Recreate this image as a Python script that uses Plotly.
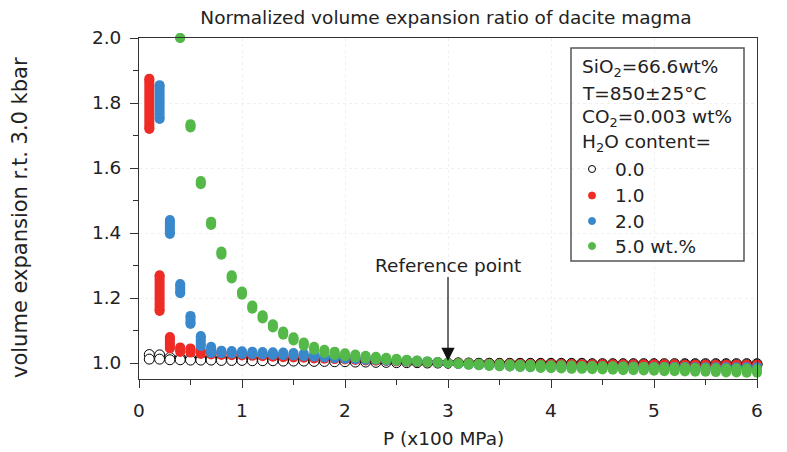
import plotly.graph_objects as go

# ---------------- data ----------------
P = [0.1, 0.2, 0.3, 0.4, 0.5, 0.6, 0.7, 0.8, 0.9, 1.0,
     1.1, 1.2, 1.3, 1.4, 1.5, 1.6, 1.7, 1.8, 1.9, 2.0,
     2.1, 2.2, 2.3, 2.4, 2.5, 2.6, 2.7, 2.8, 2.9, 3.0,
     3.1, 3.2, 3.3, 3.4, 3.5, 3.6, 3.7, 3.8, 3.9, 4.0,
     4.1, 4.2, 4.3, 4.4, 4.5, 4.6, 4.7, 4.8, 4.9, 5.0,
     5.1, 5.2, 5.3, 5.4, 5.5, 5.6, 5.7, 5.8, 5.9, 6.0]

# H2O = 0.0 wt% (upper / lower end of the temperature range)
h2o_0_hi = [1.026, 1.025, 1.017, 1.016, 1.016, 1.015, 1.015, 1.014, 1.014, 1.013,
            1.013, 1.012, 1.012, 1.011, 1.011, 1.010, 1.010, 1.009, 1.009, 1.008,
            1.007, 1.007, 1.006, 1.005, 1.005, 1.004, 1.003, 1.002, 1.001, 1.000,
            1.000, 1.000, 0.999, 0.999, 0.999, 0.999, 0.999, 0.999, 0.999, 0.999,
            0.999, 0.999, 0.999, 0.998, 0.998, 0.998, 0.998, 0.998, 0.998, 0.998,
            0.998, 0.998, 0.998, 0.998, 0.998, 0.998, 0.998, 0.998, 0.998, 0.998]
h2o_0_lo = [1.012, 1.012, 1.010, 1.010, 1.009, 1.009, 1.009, 1.008, 1.008, 1.008,
            1.007, 1.007, 1.007, 1.006, 1.006, 1.006, 1.005, 1.005, 1.004, 1.004,
            1.003, 1.003, 1.002, 1.002, 1.001, 1.001, 1.001, 1.000, 1.000, 1.000,
            1.000, 0.999, 0.999, 0.999, 0.998, 0.998, 0.998, 0.998, 0.997, 0.997,
            0.997, 0.997, 0.997, 0.996, 0.996, 0.996, 0.996, 0.996, 0.996, 0.996,
            0.995, 0.995, 0.995, 0.995, 0.995, 0.995, 0.995, 0.995, 0.995, 0.995]

# H2O = 1.0 wt%
h2o_1_hi = [1.875, 1.270, 1.080, 1.048, 1.045, 1.040, 1.036, 1.033, 1.031, 1.030,
            1.028, 1.027, 1.025, 1.024, 1.022, 1.021, 1.019, 1.018, 1.016, 1.015,
            1.013, 1.012, 1.010, 1.009, 1.007, 1.006, 1.004, 1.003, 1.001, 1.000,
            0.999, 0.999, 0.998, 0.998, 0.998, 0.998, 0.997, 0.997, 0.997, 0.997,
            0.997, 0.997, 0.996, 0.996, 0.996, 0.996, 0.996, 0.996, 0.996, 0.996,
            0.996, 0.996, 0.995, 0.995, 0.995, 0.995, 0.995, 0.995, 0.995, 0.995]
h2o_1_lo = [1.720, 1.160, 1.045, 1.034, 1.032, 1.028, 1.026, 1.025, 1.024, 1.023,
            1.022, 1.021, 1.019, 1.018, 1.017, 1.016, 1.014, 1.013, 1.012, 1.011,
            1.009, 1.008, 1.007, 1.006, 1.005, 1.004, 1.003, 1.002, 1.001, 1.000,
            0.999, 0.998, 0.997, 0.996, 0.996, 0.995, 0.995, 0.994, 0.994, 0.993,
            0.993, 0.993, 0.992, 0.992, 0.992, 0.991, 0.991, 0.991, 0.991, 0.990,
            0.990, 0.990, 0.990, 0.990, 0.989, 0.989, 0.989, 0.989, 0.989, 0.989]

# H2O = 2.0 wt%
h2o_2_hi = [None, 1.855, 1.440, 1.243, 1.145, 1.083, 1.050, 1.038, 1.037, 1.036,
            1.035, 1.034, 1.033, 1.032, 1.031, 1.029, 1.027, 1.025, 1.023, 1.021,
            1.019, 1.017, 1.015, 1.013, 1.011, 1.009, 1.007, 1.005, 1.003, 1.000,
            0.998, 0.997, 0.996, 0.995, 0.994, 0.993, 0.993, 0.992, 0.992, 0.991,
            0.991, 0.990, 0.990, 0.990, 0.989, 0.989, 0.989, 0.989, 0.988, 0.988,
            0.988, 0.988, 0.988, 0.987, 0.987, 0.987, 0.987, 0.987, 0.987, 0.987]
h2o_2_lo = [None, 1.751, 1.397, 1.215, 1.120, 1.052, 1.031, 1.030, 1.029, 1.028,
            1.027, 1.026, 1.025, 1.024, 1.023, 1.021, 1.019, 1.017, 1.015, 1.013,
            1.012, 1.010, 1.009, 1.007, 1.006, 1.005, 1.004, 1.003, 1.001, 1.000,
            0.997, 0.995, 0.993, 0.992, 0.990, 0.989, 0.988, 0.987, 0.986, 0.986,
            0.985, 0.984, 0.984, 0.983, 0.983, 0.982, 0.982, 0.982, 0.981, 0.981,
            0.981, 0.980, 0.980, 0.980, 0.980, 0.979, 0.979, 0.979, 0.979, 0.979]

# H2O = 5.0 wt%
h2o_5_hi = [None, None, None, 2.000, 1.735, 1.560, 1.435, 1.343, 1.270, 1.220,
            1.177, 1.147, 1.119, 1.097, 1.079, 1.063, 1.050, 1.041, 1.035, 1.030,
            1.026, 1.022, 1.019, 1.016, 1.013, 1.010, 1.008, 1.005, 1.003, 1.000,
            0.999, 0.999, 0.998, 0.997, 0.997, 0.996, 0.995, 0.995, 0.994, 0.993,
            0.993, 0.992, 0.991, 0.991, 0.990, 0.990, 0.989, 0.988, 0.988, 0.987,
            0.987, 0.986, 0.986, 0.985, 0.984, 0.984, 0.983, 0.983, 0.982, 0.981]
h2o_5_lo = [None, None, None, 2.000, 1.725, 1.550, 1.425, 1.333, 1.260, 1.210,
            1.167, 1.137, 1.109, 1.087, 1.069, 1.053, 1.040, 1.031, 1.025, 1.021,
            1.017, 1.014, 1.011, 1.009, 1.007, 1.005, 1.004, 1.002, 1.001, 1.000,
            0.997, 0.995, 0.993, 0.991, 0.990, 0.989, 0.988, 0.987, 0.985, 0.984,
            0.983, 0.982, 0.982, 0.981, 0.980, 0.979, 0.978, 0.978, 0.977, 0.976,
            0.975, 0.975, 0.974, 0.973, 0.973, 0.972, 0.971, 0.971, 0.970, 0.970]

x_ticks = [0, 1, 2, 3, 4, 5, 6]
y_ticks = [1.0, 1.2, 1.4, 1.6, 1.8, 2.0]

legend_info = ["SiO<sub>2</sub>=66.6wt%", "T=850±25°C",
               "CO<sub>2</sub>=0.003 wt%", "H<sub>2</sub>O content="]
legend_labels = ["0.0", "1.0", "2.0", "5.0 wt.%"]

# ---------------- styling ----------------
FONT = "DejaVu Sans"
RED = "#EE2B25"
BLUE = "#3A88CC"
GREEN = "#55B94A"
AX = "#333333"


def capsule(x, lo, hi, color, name):
    xs, ys = [], []
    for p, a, b in zip(x, lo, hi):
        if a is None or b is None:
            continue
        xs += [p, p, None]
        ys += [a, b, None]
    return go.Scatter(x=xs, y=ys, mode="lines+markers", name=name,
                      line=dict(color=color, width=10),
                      marker=dict(color=color, size=10),
                      cliponaxis=False, showlegend=False, hoverinfo="skip")


fig = go.Figure()
fig.add_trace(go.Scatter(x=P + P, y=h2o_0_hi + h2o_0_lo, mode="markers", name="0.0",
                         marker=dict(size=10, color="white",
                                     line=dict(color="black", width=1)),
                         cliponaxis=False, showlegend=False, hoverinfo="skip"))
fig.add_trace(capsule(P, h2o_1_lo, h2o_1_hi, RED, "1.0"))
fig.add_trace(capsule(P, h2o_2_lo, h2o_2_hi, BLUE, "2.0"))
fig.add_trace(capsule(P, h2o_5_lo, h2o_5_hi, GREEN, "5.0"))

L, R, T, B = 139, 757, 38, 379
W, H = 787, 452


def px(xp):
    return (xp - L) / (R - L)


def py(yp):
    return (B - yp) / (B - T)


axis_common = dict(showline=True, linecolor=AX, linewidth=1, mirror=True,
                   ticks="outside", ticklen=8, tickwidth=1, tickcolor=AX,
                   showgrid=True, gridcolor="#f0f0f0", griddash="dot", gridwidth=1,
                   zeroline=False,
                   tickfont=dict(family=FONT, size=18.5, color="#222"))

fig.update_layout(
    width=W, height=H,
    margin=dict(l=L, r=W - R, t=T, b=H - B),
    paper_bgcolor="white", plot_bgcolor="white",
    font=dict(family=FONT, size=18.5, color="#222"),
    title=dict(text="Normalized volume expansion ratio of dacite magma",
               x=446 / W, xanchor="center", y=1 - 18 / H, yanchor="middle",
               font=dict(family=FONT, size=18.5, color="#222")),
    xaxis=dict(range=[0, 6], tickvals=x_ticks, ticktext=[str(v) for v in x_ticks],
               minor=dict(tickvals=[0.5, 1.5, 2.5, 3.5, 4.5, 5.5], ticks="outside",
                          ticklen=5, tickcolor=AX, showgrid=False),
               ticklabelstandoff=7,
               **axis_common),
    yaxis=dict(range=[0.9508, 2.0], tickvals=y_ticks,
               ticktext=[f"{v:.1f}" for v in y_ticks],
               minor=dict(tickvals=[1.1, 1.3, 1.5, 1.7, 1.9], ticks="outside",
                          ticklen=5, tickcolor=AX, showgrid=False),
               ticklabelstandoff=5,
               **axis_common),
    showlegend=False,
)

annotations = [
    dict(text="volume expansion r.t. 3.0 kbar", textangle=-90,
         xref="paper", yref="paper", x=px(20), y=py(218),
         xanchor="center", yanchor="middle", showarrow=False,
         font=dict(family=FONT, size=21, color="#222")),
    dict(text="P (x100 MPa)", xref="paper", yref="paper", x=px(443), y=py(438),
         xanchor="center", yanchor="middle", showarrow=False,
         font=dict(family=FONT, size=18.5, color="#222")),
    dict(text="Reference point", x=3, y=1.006, xref="x", yref="y",
         ax=0, ay=-96, showarrow=True, arrowhead=2, arrowsize=2.2,
         arrowwidth=1.2, arrowcolor="#111", standoff=0,
         font=dict(family=FONT, size=18.5, color="#222")),
]

info_y = [68.3, 93.3, 118.3, 143.3]
for txt, yy in zip(legend_info, info_y):
    annotations.append(dict(text=txt, xref="paper", yref="paper", x=px(580), y=py(yy),
                            xanchor="left", yanchor="middle", showarrow=False,
                            font=dict(family=FONT, size=18.5, color="#222")))

label_y = [169, 195.5, 221, 246]
for txt, yy in zip(legend_labels, label_y):
    annotations.append(dict(text=txt, xref="paper", yref="paper", x=px(613), y=py(yy),
                            xanchor="left", yanchor="middle", showarrow=False,
                            font=dict(family=FONT, size=18.5, color="#222")))

shapes = [dict(type="rect", xref="paper", yref="paper",
               x0=px(571), x1=px(744), y0=py(261), y1=py(48),
               line=dict(color="#555", width=1.5), fillcolor="rgba(0,0,0,0)",
               layer="above")]
marker_styles = [("white", "black"), (RED, RED), (BLUE, BLUE), (GREEN, GREEN)]
for (fill, edge), yy in zip(marker_styles, label_y):
    shapes.append(dict(type="circle", xref="paper", yref="paper",
                       xsizemode="pixel", ysizemode="pixel",
                       xanchor=px(592), yanchor=py(yy),
                       x0=-3.5, x1=3.5, y0=-3.5, y1=3.5,
                       fillcolor=fill, line=dict(color=edge, width=1),
                       layer="above"))

fig.update_layout(annotations=annotations, shapes=shapes)
fig.write_html("out.html",
               config={"displayModeBar": False},
               post_script="document.body.style.margin='0px';"
                           "document.body.style.overflow='hidden';")
